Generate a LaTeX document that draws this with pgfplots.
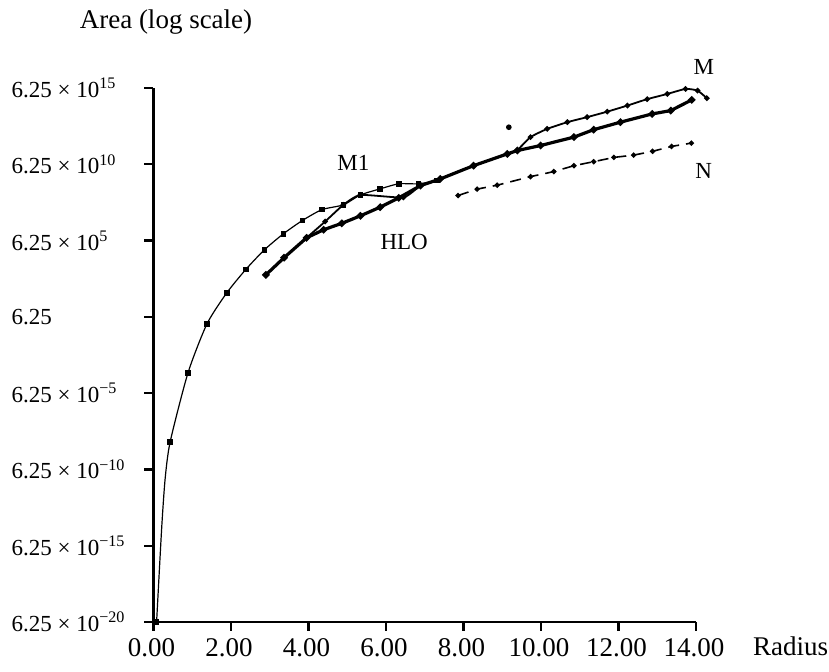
\documentclass[border=0pt]{standalone}
\usepackage{pgfplots}
\pgfplotsset{compat=1.18}
\usepackage{fontspec}
\setmainfont{Liberation Serif}

\begin{document}
\begin{tikzpicture}[font=\fontsize{11.5}{13}\selectfont]
\begin{axis}[
  scale only axis,
  width=271.25pt, height=267pt,
  xmin=0, xmax=14,
  ymode=log, ymin=6.25e-20, ymax=6.25e15,
  axis x line=bottom, axis y line=left,
  axis line style={-, line width=1.4pt},
  tick align=outside,
  major tick length=4.5pt,
  tick style={line width=1.1pt, black},
  xtick={0,2,4,6,8,10,12,14},
  xticklabels={0.00,2.00,4.00,6.00,8.00,10.00,12.00,14.00},
  ytick={6.25e-20,6.25e-15,6.25e-10,6.25e-5,6.25,6.25e5,6.25e10,6.25e15},
  yticklabels={6.25 × 10\textsuperscript{−20},6.25 × 10\textsuperscript{−15},6.25 × 10\textsuperscript{−10},6.25 × 10\textsuperscript{−5},6.25,6.25 × 10\textsuperscript{5},6.25 × 10\textsuperscript{10},6.25 × 10\textsuperscript{15}},
  minor x tick num=0, minor y tick num=0,
  yticklabel style={font=\fontsize{11.5}{13}\selectfont, anchor=west, xshift=-70pt},
  xticklabel style={font=\fontsize{13.5}{15}\selectfont, xshift=-1pt},
  clip=false,
]
% M1
\addplot[black, line width=0.6pt, smooth, tension=0.4, mark=square*, mark size=1.1pt,
  mark indices={1,4,5,6,7,8,9,10,11,12,13,14,15,16,17,18}] coordinates {
(0.08,6.25e-20) (0.21,8.05e-14) (0.30,1.50e-10) (0.43,4.04e-8) (0.89,1.34e-3)
(1.38,2.17) (1.89,232) (2.38,7.87e3) (2.86,1.53e5) (3.35,1.72e6) (3.84,1.28e7)
(4.35,6.70e7) (4.90,1.37e8) (5.34,6.11e8) (5.85,1.53e9) (6.33,3.28e9) (6.84,3.28e9)
(7.32,5.32e9)};
% HLO
\addplot[black, line width=1.6pt, mark=*, mark size=0.9pt] coordinates {
(2.90,3.52e3) (3.37,4.74e4) (3.95,9.46e5) (4.39,3.21e6) (4.86,8.43e6) (5.34,2.61e7)
(5.85,9.68e7) (6.33,3.94e8) (6.89,2.49e9) (7.40,6.86e9) (8.26,5.08e10) (9.13,2.99e11)
(9.39,4.97e11) (9.99,1.06e12) (10.85,3.77e12) (11.36,1.16e13) (12.05,3.60e13)
(12.87,1.25e14) (13.35,2.07e14) (13.89,1.04e15)};
% M
\addplot[black, line width=0.9pt, smooth, tension=0.3, mark=*, mark size=0.9pt] coordinates {
(3.95,9.46e5) (4.43,1.11e7) (4.90,1.37e8) (5.34,6.11e8) (6.45,4.23e8) (6.89,2.49e9)
(7.40,6.86e9) (8.26,5.08e10) (9.13,2.99e11) (9.38,5.08e11) (9.73,3.77e12) (10.16,1.31e13)
(10.68,3.60e13) (11.19,7.69e13) (11.71,1.76e14) (12.23,4.43e14) (12.74,1.16e15)
(13.26,2.55e15) (13.73,5.44e15) (14.04,4.23e15) (14.28,1.34e15)};
% stray point
\addplot[only marks, mark=*, mark size=1.2pt, black] coordinates {(9.17,1.68e13)};
% N
\addplot[black, line width=0.8pt, dash pattern=on 5.5pt off 3.5pt, mark=*, mark size=0.9pt, mark options={solid}] coordinates {
(7.86,5.57e8) (8.35,1.47e9) (8.87,2.67e9) (9.73,9.68e9) (10.33,2.07e10) (10.85,5.08e10)
(11.36,9.25e10) (11.88,1.76e11) (12.39,2.49e11) (12.88,4.43e11) (13.37,9.25e11) (13.88,1.53e12)};
\node at (axis cs:5.16,7.69e10) {M1};
\node at (axis cs:6.47,5.08e5) {HLO};
\node at (axis cs:14.2,1.50e17) {M};
\node at (axis cs:14.2,2.32e10) {N};
\node[font=\fontsize{13.5}{15}\selectfont] at (rel axis cs:0,1) [xshift=6.25pt, yshift=33pt] {Area (log scale)};
\node[anchor=west, font=\fontsize{13.5}{15}\selectfont] at (rel axis cs:1,0) [xshift=25pt, yshift=-12pt] {Radius};
\end{axis}
\pgfresetboundingbox
\path[use as bounding box] (-76.75pt,-25pt) rectangle (337.75pt,311pt);
\end{tikzpicture}
\end{document}
